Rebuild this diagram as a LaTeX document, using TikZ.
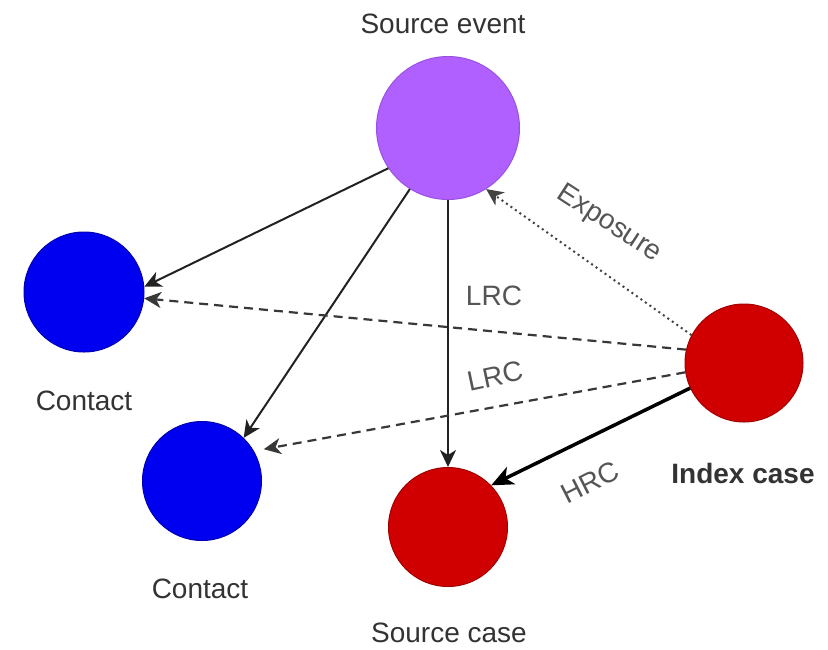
\documentclass[tikz,border=0pt]{standalone}
\usepackage{fontspec}
\setmainfont{Liberation Sans}
\usetikzlibrary{arrows.meta}
\definecolor{evpurple}{HTML}{B060FF}
\definecolor{evpurpleline}{HTML}{9A4FE0}
\definecolor{ctblue}{HTML}{0000F0}
\definecolor{ctblueline}{HTML}{0000B0}
\definecolor{casered}{HTML}{D00000}
\definecolor{caseredline}{HTML}{A00000}
\definecolor{ink}{HTML}{222222}
\definecolor{nodetext}{HTML}{333333}
\definecolor{edgetext}{HTML}{555555}
\begin{document}
\begin{tikzpicture}[x=1pt,y=-1pt,
  disc/.style={circle, inner sep=0pt, minimum size=#1, line width=1pt},
  caption/.style={anchor=base, text=nodetext, font=\fontsize{28}{32}\selectfont},
  edgelabel/.style={text=edgetext, font=\fontsize{28}{32}\selectfont, inner sep=0pt},
  tipthin/.style={-{Stealth[length=17pt,width=16pt,inset=5pt]}},
  solidedge/.style={tipthin, draw=ink, line width=2pt},
  dashededge/.style={tipthin, draw=ink!90, line width=2.2pt, dash pattern=on 9pt off 6pt},
  dottededge/.style={tipthin, draw=ink!85, line width=2pt, dash pattern=on 2pt off 3.5pt},
  thickedge/.style={-{Stealth[length=22pt,width=19pt,inset=6pt]}, draw=black, line width=3.5pt}]
  \useasboundingbox (0,0) rectangle (828,649);
  \fill[white] (0,0) rectangle (828,649);

  % circles
  \node[disc=143pt, fill=evpurple, draw=evpurpleline] (se) at (448,128) {};
  \node[disc=120pt, fill=ctblue, draw=ctblueline] (c1) at (84,292) {};
  \node[disc=119pt, fill=ctblue, draw=ctblueline] (c2) at (202,481) {};
  \node[disc=119pt, fill=casered, draw=caseredline] (sc) at (448,527) {};
  \node[disc=118pt, fill=casered, draw=caseredline] (ic) at (744,363) {};

  % captions
  \node[caption] (seText) at (443,33) {Source event};
  \node[caption] (c1Text) at (84,410) {Contact};
  \node[caption] (c2Text) at (200,598) {Contact};
  \node[caption] (scText) at (449,642) {Source case};
  \node[caption, font=\fontsize{28}{32}\selectfont\bfseries] (icText) at (743,483) {Index case};

  % connectors
  \draw[solidedge] (se.214) -- (c1.5);
  \draw[solidedge] (se.238) -- (c2.46);
  \draw[solidedge] (se) -- (sc);
  \draw[dottededge] (ic.152) -- (se.302);
  \draw[dashededge] (ic.167) -- (c1.354);
  \draw[dashededge, shorten >=10pt] (ic.189) -- (c2.30);
  \draw[thickedge] (ic.205) -- (sc.44);

  % connector labels
  \node[edgelabel, anchor=base] (lrcA) at (494,305) {LRC};
  \node[edgelabel, rotate=12] (lrcB) at (495,376) {LRC};
  \node[edgelabel, rotate=-33] (expo) at (609,224) {Exposure};
  \node[edgelabel, rotate=27] (hrc) at (590,482) {HRC};
\end{tikzpicture}
\end{document}
